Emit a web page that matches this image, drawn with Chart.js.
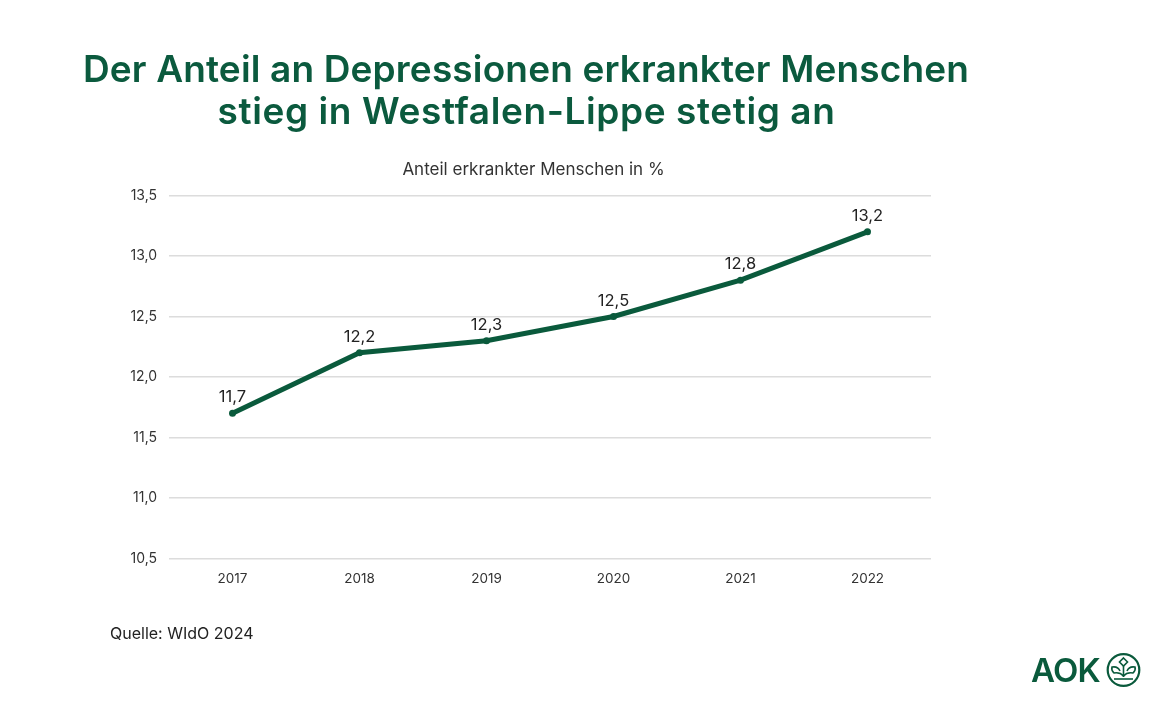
<!DOCTYPE html>
<html><head><meta charset="utf-8">
<style>
html,body{margin:0;padding:0;background:#fff;width:1152px;height:720px;overflow:hidden}
#c{position:absolute;left:0;top:0}
</style>
<script src="https://cdn.jsdelivr.net/npm/chart.js@4"></script>
</head><body>
<canvas id="c" width="1152" height="720"></canvas>
<script>
const years=['2017','2018','2019','2020','2021','2022'];
const shares=[11.7,12.2,12.3,12.5,12.8,13.2];
const yTicks=[10.5,11,11.5,12,12.5,13,13.5];
const titleLines=['Der Anteil an Depressionen erkrankter Menschen','stieg in Westfalen-Lippe stetig an'];
const subtitleText='Anteil erkrankter Menschen in %';
const sourceText='Quelle: WIdO 2024';
const logoText='AOK';
const fmt=v=>v.toFixed(1).replace('.',',');
const GREEN='#0a5a3c';
const FONT='Inter, "Open Sans", sans-serif';
const overlay={id:'overlay',afterDraw(ch){
 const x=ch.ctx;x.save();
 x.fillStyle='#0b5a3e';x.textAlign='center';x.textBaseline='alphabetic';
 x.font='600 37px '+FONT;
 x.letterSpacing='0.15px';
 x.fillText(titleLines[0],526,82);
 x.letterSpacing='0.6px';
 x.fillText(titleLines[1],526.5,124);
 x.letterSpacing='0px';
 x.fillStyle='#333';x.font='17px '+FONT;
 x.fillText(subtitleText,533.5,175);
 x.textAlign='left';x.font='16px '+FONT;x.fillStyle='#222';
 x.fillText(sourceText,110,639);
 x.fillStyle=GREEN;x.font='600 33px '+FONT;
 x.letterSpacing='-0.8px';
 x.fillText(logoText,1031,682);
 x.letterSpacing='0px';
 x.strokeStyle=GREEN;x.fillStyle=GREEN;x.lineWidth=2.2;
 x.beginPath();x.arc(1123.5,670,15.8,0,Math.PI*2);x.stroke();
 x.lineWidth=1.6;
 x.beginPath();x.moveTo(1123.5,677);x.lineTo(1123.5,666);x.stroke();
 x.beginPath();x.moveTo(1114,679);x.lineTo(1133,679);x.stroke();
 x.beginPath();x.moveTo(1123.5,658);x.lineTo(1127.5,662);x.lineTo(1123.5,666);x.lineTo(1119.5,662);x.closePath();x.stroke();
 x.beginPath();x.moveTo(1123.5,676);x.quadraticCurveTo(1120,672,1114,673);x.quadraticCurveTo(1111,670,1112,667);x.quadraticCurveTo(1118,666,1120,671);x.stroke();
 x.beginPath();x.moveTo(1123.5,676);x.quadraticCurveTo(1127,672,1133,673);x.quadraticCurveTo(1136,670,1135,667);x.quadraticCurveTo(1129,666,1127,671);x.stroke();
 x.restore();
}};
const labels={id:'labels',afterDatasetsDraw(ch){
 const x=ch.ctx,m=ch.getDatasetMeta(0);x.save();
 x.fillStyle='#222';x.font='16.5px '+FONT;x.textAlign='center';x.textBaseline='alphabetic';
 m.data.forEach((p,i)=>x.fillText(fmt(shares[i]),p.x,p.y-11));
 x.restore();
}};
new Chart(document.getElementById('c'),{
 type:'line',
 data:{labels:years,datasets:[{data:shares,borderColor:GREEN,backgroundColor:GREEN,borderWidth:5,pointRadius:3.5,pointBackgroundColor:GREEN,pointBorderWidth:0,tension:0,clip:false}]},
 options:{responsive:false,animation:false,devicePixelRatio:1,
  layout:{padding:{left:119,right:221,top:195.5,bottom:130}},
  plugins:{legend:{display:false},tooltip:{enabled:false},title:{display:false}},
  scales:{
   x:{offset:true,afterFit(a){a.height=31.5},grid:{display:false},border:{display:false},ticks:{color:'#333',font:{family:FONT,size:13.5},padding:4,maxRotation:0,autoSkip:false}},
   y:{min:10.5,max:13.5,afterBuildTicks(a){a.ticks=yTicks.map(v=>({value:v}))},
      afterFit(a){a.width=50},
      grid:{color:'#dcdcdc',lineWidth:1.4,drawTicks:false},border:{display:false},
      ticks:{color:'#333',font:{family:FONT,size:14},padding:12,autoSkip:false,callback:v=>fmt(v)}}
  }
 },
 plugins:[labels,overlay]
});
</script>
</body></html>
